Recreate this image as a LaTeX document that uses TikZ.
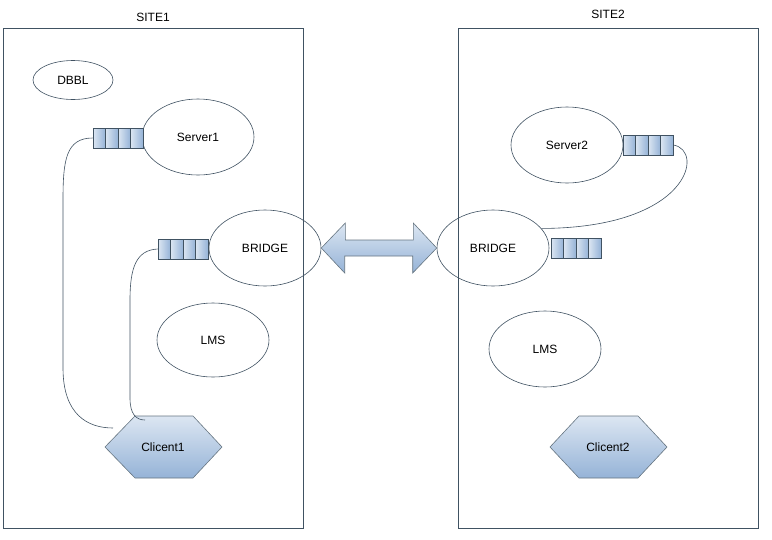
\documentclass[tikz,border=0pt]{standalone}
\usepackage{fontspec}
\setmainfont{Liberation Sans}
\usetikzlibrary{positioning,shapes.geometric}
\definecolor{edge}{RGB}{64,82,98}
\definecolor{lightblue}{RGB}{220,230,242}
\definecolor{midblue}{RGB}{149,179,215}
\tikzset{
    site/.style={draw=edge, line width=0.9pt, minimum width=300, minimum height=500, inner sep=0},
    oval/.style={ellipse, draw=edge, line width=0.6pt, minimum width=112, minimum height=76, inner sep=0},
    cell/.style={draw=edge, line width=0.6pt, minimum width=12.5, minimum height=20, inner sep=0,
        left color=lightblue, right color=midblue},
    qbox/.style={draw=edge, line width=0.6pt, minimum width=50, minimum height=20, inner sep=0},
    wire/.style={draw=edge, line width=0.6pt},
    hexa/.style={draw=edge!80, line width=0.6pt, top color=lightblue, bottom color=midblue}
}
\newcommand{\queue}[3]{%
    \foreach \i in {0,...,3}
        \node[cell] at ({#2+12.5*\i+6.25},#3) {};
    \node[qbox] (#1) at ({#2+25},#3) {};
}
\begin{document}
\begin{tikzpicture}[x=1pt, y=-1pt, font=\fontsize{12}{14}\selectfont]
    \useasboundingbox (0,0) rectangle (772,539);

    \node[site] (site1) at (153,278) {};
    \node[site] (site2) at (608,278) {};
    \node[above=2pt of site1.north] (t1) {SITE1};
    \node[above=5pt of site2.north] (t2) {SITE2};

    \node[oval, minimum width=80, minimum height=39] (dbbl) at (73,80) {DBBL};
    \node[oval] (srv1) at (198,137) {Server1};
    \node[oval] (br1) at (265,248) {BRIDGE};
    \node[oval, minimum height=74] (lms1) at (213,340) {LMS};

    \node[oval] (br2) at (493,248) {BRIDGE};
    \node[oval] (srv2) at (567,145) {Server2};
    \node[oval] (lms2) at (545,349) {LMS};

    \path[hexa] (br1.east) -- ++(24,-25) -- ++(0,17) -- ++(68,0) -- ++(0,-17) -- (br2.west)
        -- ++(-24,25) -- ++(0,-17) -- ++(-68,0) -- ++(0,17) -- cycle;

    \queue{q1}{93}{138}
    \queue{q2}{158}{249}
    \queue{q3}{623}{145}
    \queue{q4}{551}{248}

    \def\hexone{(105,447) -- (135,416) -- (193,416) -- (222,447) -- (193,478) -- (135,478) -- cycle}
    \def\hextwo{(550,447) -- (579,416) -- (638,416) -- (667,447) -- (638,478) -- (579,478) -- cycle}
    \path[hexa] \hexone;
    \path[hexa] \hextwo;
    \node (cl1) at (163,447) {Clicent1};
    \node (cl2) at (608,447) {Clicent2};

    \coordinate (cl1a) at (113,428);
    \coordinate (cl1b) at (145,420);

    \draw[wire] (q1.west) .. controls (66,138) and (63,160) .. (63,200)
        -- (63,368) .. controls (63,415) and (88,428) .. (cl1a);
    \draw[wire] (q2.west) .. controls (136,250) and (130,268) .. (130,300)
        -- (130,398) .. controls (130,414) and (136,420) .. (cl1b);
    \draw[wire] (q3.east) .. controls (705,150) and (690,228) .. (br2.22);
\end{tikzpicture}
\end{document}
